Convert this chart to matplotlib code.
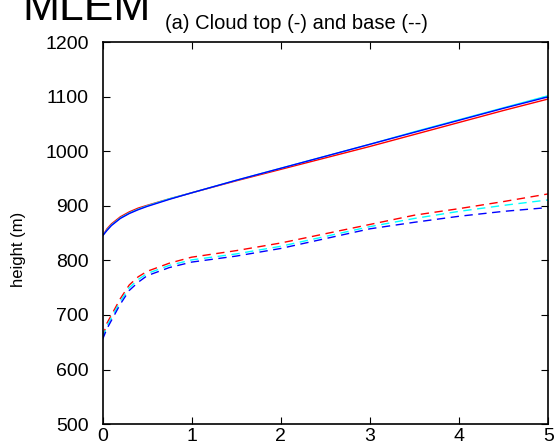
import matplotlib
matplotlib.use('Agg')
import matplotlib.pyplot as plt

plt.rcParams['font.family'] = ['Liberation Sans', 'DejaVu Sans']

# time axis (hours)
x = [0, 0.05, 0.1, 0.2, 0.3, 0.4, 0.5, 0.75, 1, 1.5, 2, 2.5, 3, 3.5, 4, 4.5, 5]

# cloud top heights (m)
top_red = [845, 858, 867, 880, 889, 896, 901, 913, 924, 946, 967, 988, 1009, 1031, 1053, 1075, 1096]
top_cyan = [845, 856, 865, 878, 887, 894, 900, 913, 924, 947, 969, 991, 1013, 1036, 1058, 1080, 1102]
top_blue = [845, 855, 864, 877, 886, 893, 899, 912, 924, 947, 969, 991, 1013, 1035, 1057, 1079, 1100]

# cloud base heights (m)
base_red = [660, 685, 700, 730, 755, 770, 780, 795, 806, 818, 832, 849, 866, 883, 895, 908, 922]
base_cyan = [658, 680, 695, 725, 750, 765, 776, 791, 801, 812, 826, 844, 862, 877, 890, 901, 911]
base_blue = [655, 675, 690, 720, 745, 760, 772, 787, 797, 808, 822, 840, 858, 870, 881, 890, 897]

fig = plt.figure(figsize=(5.55, 4.45), dpi=100)
ax = fig.add_axes([0.1847, 0.047, 0.803, 0.858])

for top, base, col in [(top_red, base_red, 'red'),
                       (top_cyan, base_cyan, 'cyan'),
                       (top_blue, base_blue, 'blue')]:
    ax.plot(x, top, '-', color=col, lw=1)
    ax.plot(x, base, '--', color=col, lw=1, dashes=(6, 4))

ax.set_xlim(0, 5)
ax.set_ylim(500, 1200)
ax.set_xticks([0, 1, 2, 3, 4, 5])
ax.set_yticks(range(500, 1201, 100))
ax.tick_params(direction='in', labelsize=14, length=5, top=True, right=True,
               labeltop=False, labelright=False)
ax.tick_params(axis='x', pad=3)
ax.tick_params(axis='y', pad=10)
for s in ax.spines.values():
    s.set_linewidth(1.2)

fig.text(0.034, 0.44, 'height (m)', rotation=90, fontsize=12,
         ha='center', va='center')
fig.text(0.297, 0.935, '(a) Cloud top (-) and base (--)', fontsize=14.5,
         ha='left', va='baseline')
fig.text(0.04, 0.955, 'MLEM', fontsize=32, ha='left', va='baseline')

fig.savefig('out.png', dpi=100)
